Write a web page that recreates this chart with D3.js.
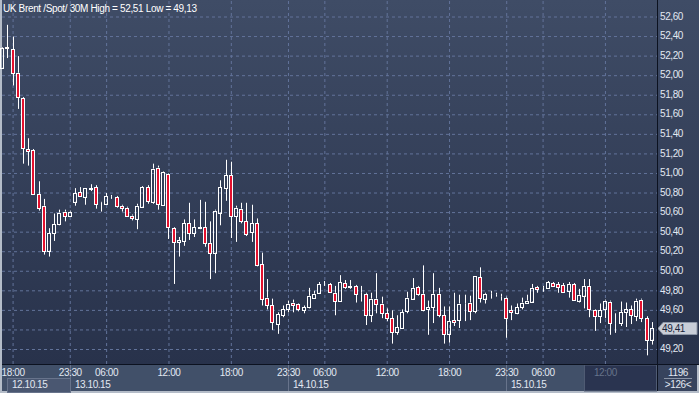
<!DOCTYPE html>
<html>
<head>
<meta charset="utf-8">
<script src="https://cdn.jsdelivr.net/npm/d3@7"></script>
<style>
body { margin: 0; background: #b9c0ca; }
text { font-family: "Liberation Sans", Arial, sans-serif; }
</style>
</head>
<body>
<div id="chart"></div>
<script>
// UK Brent /Spot/ 30 minute candles, 12.10.15 17:00 .. 15.10.15 16:30 (126 bars)
var opens = [52.07, 52.27, 52.26, 52.02, 51.76, 51.24, 51.23, 50.78, 50.66, 50.20,
             50.38, 50.47, 50.60, 50.55, 50.70, 50.80, 50.75, 50.83, 50.85, 50.69,
             50.68, 50.75, 50.75, 50.66, 50.64, 50.56, 50.52, 50.65, 50.85, 50.70,
             51.05, 50.67, 50.98, 50.43, 50.29, 50.30, 50.48, 50.38, 50.44, 50.44,
             50.28, 50.18, 50.59, 50.84, 50.97, 50.55, 50.63, 50.50, 50.39, 50.48,
             50.06, 49.72, 49.64, 49.45, 49.54, 49.60, 49.67, 49.65, 49.59, 49.62,
             49.72, 49.77, 49.86, 49.86, 49.77, 49.69, 49.87, 49.83, 49.84, 49.77,
             49.76, 49.54, 49.71, 49.66, 49.56, 49.51, 49.37, 49.41, 49.58, 49.71,
             49.83, 49.76, 49.60, 49.62, 49.76, 49.54, 49.35, 49.49, 49.49, 49.66,
             49.67, 49.58, 49.93, 49.71, 49.76, 49.75, 49.73, 49.72, 49.59, 49.56,
             49.62, 49.67, 49.68, 49.83, 49.82, 49.82, 49.87, 49.86, 49.85, 49.79,
             49.86, 49.69, 49.74, 49.84, 49.59, 49.53, 49.60, 49.68, 49.46, 49.46,
             49.57, 49.60, 49.53, 49.70, 49.51, 49.29];
var highs = [52.28, 52.51, 52.39, 52.19, 51.77, 51.35, 51.24, 50.91, 50.73, 50.43,
             50.58, 50.62, 50.62, 50.61, 50.84, 50.85, 50.84, 50.88, 50.87, 50.70,
             50.79, 50.77, 50.76, 50.67, 50.65, 50.57, 50.68, 50.86, 50.87, 51.09,
             51.07, 51.01, 50.99, 50.44, 50.34, 50.52, 50.69, 50.52, 50.72, 50.70,
             50.50, 50.62, 50.92, 51.13, 51.11, 50.66, 50.69, 50.69, 50.67, 50.53,
             50.18, 49.91, 49.71, 49.57, 49.64, 49.69, 49.70, 49.66, 49.64, 49.82,
             49.79, 49.88, 49.89, 49.87, 49.84, 49.95, 49.90, 49.90, 49.85, 49.84,
             49.77, 49.77, 49.97, 49.73, 49.61, 49.59, 49.54, 49.60, 49.78, 49.92,
             49.84, 50.05, 49.69, 49.97, 49.82, 49.63, 49.63, 49.77, 49.75, 49.75,
             49.74, 49.94, 50.03, 49.77, 49.79, 49.77, 49.76, 49.73, 49.64, 49.66,
             49.72, 49.75, 49.86, 49.84, 49.84, 49.89, 49.88, 49.88, 49.87, 49.88,
             49.87, 49.81, 49.91, 49.91, 49.60, 49.66, 49.70, 49.69, 49.56, 49.68,
             49.67, 49.64, 49.71, 49.71, 49.53, 49.47];
var lows = [52.06, 52.17, 51.89, 51.65, 51.09, 51.07, 50.77, 50.61, 50.16, 50.14,
            50.30, 50.46, 50.50, 50.55, 50.66, 50.75, 50.67, 50.81, 50.63, 50.60,
            50.67, 50.73, 50.64, 50.60, 50.55, 50.51, 50.42, 50.64, 50.68, 50.68,
            50.62, 50.67, 50.32, 49.86, 50.14, 50.25, 50.31, 50.34, 50.42, 50.24,
            49.91, 49.97, 50.46, 50.71, 50.33, 50.29, 50.48, 50.35, 50.29, 50.04,
            49.64, 49.60, 49.39, 49.35, 49.52, 49.57, 49.57, 49.58, 49.56, 49.61,
            49.72, 49.76, 49.84, 49.78, 49.54, 49.69, 49.81, 49.81, 49.67, 49.68,
            49.44, 49.47, 49.56, 49.51, 49.48, 49.25, 49.34, 49.40, 49.56, 49.70,
            49.74, 49.58, 49.34, 49.46, 49.52, 49.25, 49.26, 49.43, 49.41, 49.48,
            49.49, 49.56, 49.67, 49.66, 49.71, 49.73, 49.69, 49.31, 49.49, 49.55,
            49.60, 49.67, 49.67, 49.77, 49.78, 49.82, 49.83, 49.77, 49.78, 49.72,
            49.69, 49.67, 49.61, 49.52, 49.38, 49.46, 49.51, 49.34, 49.36, 49.43,
            49.42, 49.45, 49.48, 49.47, 49.13, 49.24];
var closes = [52.27, 52.28, 52.02, 51.77, 51.25, 51.22, 50.78, 50.64, 50.20, 50.38,
              50.47, 50.59, 50.56, 50.60, 50.79, 50.76, 50.84, 50.84, 50.68, 50.69,
              50.76, 50.75, 50.66, 50.64, 50.56, 50.53, 50.66, 50.85, 50.71, 51.04,
              50.68, 51.00, 50.44, 50.29, 50.31, 50.48, 50.38, 50.44, 50.43, 50.28,
              50.18, 50.61, 50.85, 50.97, 50.56, 50.64, 50.50, 50.37, 50.48, 50.05,
              49.71, 49.64, 49.47, 49.55, 49.60, 49.66, 49.64, 49.60, 49.62, 49.74,
              49.76, 49.86, 49.86, 49.78, 49.69, 49.88, 49.83, 49.84, 49.76, 49.77,
              49.54, 49.71, 49.66, 49.56, 49.51, 49.37, 49.42, 49.57, 49.72, 49.82,
              49.76, 49.59, 49.62, 49.76, 49.54, 49.35, 49.48, 49.47, 49.66, 49.66,
              49.58, 49.94, 49.72, 49.76, 49.76, 49.75, 49.73, 49.51, 49.57, 49.62,
              49.67, 49.69, 49.82, 49.81, 49.82, 49.88, 49.84, 49.83, 49.78, 49.86,
              49.70, 49.75, 49.84, 49.60, 49.53, 49.59, 49.69, 49.46, 49.46, 49.57,
              49.60, 49.54, 49.69, 49.51, 49.29, 49.41];

// time labels on the bottom axis (bar index -> text)
var timeTickIndex = [2, 13, 20, 32, 44, 55, 62, 74, 86, 97, 104, 116];
var timeTickLabels = ["18:00", "23:30", "06:00", "12:00", "18:00", "23:30",
                      "06:00", "12:00", "18:00", "23:30", "06:00", "12:00"];
// date boxes under the times
var dateLabels = ["12.10.15", "13.10.15", "14.10.15", "15.10.15"];
var dateStartIndex = [1, 13, 55, 97];
var dimStartIndex = 112;

// price axis
var yTicks = [49.2, 49.4, 49.6, 49.8, 50.0, 50.2, 50.4, 50.6, 50.8,
              51.0, 51.2, 51.4, 51.6, 51.8, 52.0, 52.2, 52.4, 52.6];
var titleText = "UK Brent /Spot/ 30M High = 52,51 Low = 49,13";
var barCount = "1196", visibleCount = ">126<";

var WIDTH = 699, HEIGHT = 393;
var plotLeft = 2, plotRight = 657, plotTop = 0, plotBottom = 364;

var commaFmt = function (v) { return d3.format(".2f")(v).replace(".", ","); };

var svg = d3.select("#chart").append("svg")
    .attr("width", WIDTH)
    .attr("height", HEIGHT);

// background gradient used for plot and price axis
var grad = svg.append("defs").append("linearGradient")
    .attr("id", "bg").attr("x1", 0).attr("y1", 0).attr("x2", 0).attr("y2", 1);
grad.append("stop").attr("offset", "0%").attr("stop-color", "#3f4c66");
grad.append("stop").attr("offset", "100%").attr("stop-color", "#28324b");

svg.append("rect").attr("width", WIDTH).attr("height", HEIGHT).attr("fill", "#b4bcc8");
svg.append("rect")
    .attr("x", plotLeft).attr("y", 0)
    .attr("width", WIDTH - plotLeft).attr("height", plotBottom)
    .attr("fill", "url(#bg)");

var x = d3.scalePoint()
    .domain(d3.range(opens.length))
    .range([2.2, 651.7]);
var y = d3.scaleLinear()
    .domain([49.2, 52.6])
    .range([348.5, 16]);

// horizontal grid
svg.append("g")
    .attr("transform", "translate(" + plotLeft + ",0)")
    .call(d3.axisRight(y).tickValues(yTicks).tickSize(plotRight - plotLeft).tickFormat(""))
    .call(function (g) {
        g.select(".domain").remove();
        g.selectAll("line")
            .attr("stroke", "#62739a")
            .attr("stroke-dasharray", "3,3")
            .attr("transform", "translate(0,0.5)");
    });

// vertical grid
svg.append("g")
    .attr("transform", "translate(0," + plotBottom + ")")
    .call(d3.axisBottom(x).tickValues(timeTickIndex).tickSize(-(plotBottom - plotTop)).tickFormat(""))
    .call(function (g) {
        g.select(".domain").remove();
        g.selectAll("line")
            .attr("stroke", "#62739a")
            .attr("stroke-dasharray", "3,3");
    });

// candles
var candles = svg.append("g").selectAll("g")
    .data(d3.range(opens.length))
    .enter().append("g");

candles.each(function (i) {
    var g = d3.select(this);
    var cx = Math.round(x(i));
    var top = y(Math.max(opens[i], closes[i]));
    var bot = y(Math.min(opens[i], closes[i]));
    var down = closes[i] < opens[i];
    g.append("line")
        .attr("x1", cx + 0.5).attr("x2", cx + 0.5)
        .attr("y1", y(highs[i])).attr("y2", top)
        .attr("stroke", "#ffffff");
    g.append("line")
        .attr("x1", cx + 0.5).attr("x2", cx + 0.5)
        .attr("y1", bot).attr("y2", y(lows[i]))
        .attr("stroke", "#ffffff");
    g.append("rect")
        .attr("x", cx - 1.5).attr("width", 3)
        .attr("y", Math.round(top) + 0.5)
        .attr("height", Math.max(Math.round(bot) - Math.round(top), 0))
        .attr("fill", down ? "#e3112e" : "none")
        .attr("stroke", "#ffffff");
});

// title
svg.append("text")
    .attr("x", 3).attr("y", 11.5)
    .attr("font-size", "10px")
    .attr("letter-spacing", "-0.35px")
    .attr("fill", "#ffffff")
    .text(titleText);

// price axis labels (the one under the last price tag is hidden, like the original)
var last = closes[closes.length - 1];
var ly = Math.round(y(last)) + 0.5;
var labelTicks = yTicks.filter(function (v) { return Math.abs(y(v) - ly) > 9; });
svg.append("g")
    .attr("transform", "translate(" + plotRight + ",0)")
    .call(d3.axisRight(y).tickValues(labelTicks).tickSize(0).tickPadding(3).tickFormat(commaFmt))
    .call(function (g) {
        g.select(".domain").remove();
        g.selectAll("text")
            .attr("font-size", "10px")
            .attr("letter-spacing", "-0.4px")
            .attr("fill", "#e2e8f2")
            .attr("font-family", "Liberation Sans, Arial, sans-serif");
    });

// last price tag
svg.append("path")
    .attr("d", "M" + (plotRight + 1) + "," + ly + "L" + (plotRight + 6) + "," + (ly - 6) +
               "H697V" + (ly + 6) + "H" + (plotRight + 6) + "Z")
    .attr("fill", "#c9ced8")
    .attr("stroke", "#8d97a8");
svg.append("text")
    .attr("x", plotRight + 5).attr("y", ly).attr("dy", "0.35em")
    .attr("font-size", "10px").attr("letter-spacing", "-0.4px")
    .attr("fill", "#18233a")
    .text(commaFmt(last));

// bottom axis band
svg.append("rect")
    .attr("x", plotLeft).attr("y", plotBottom)
    .attr("width", plotRight - plotLeft).attr("height", 27)
    .attr("fill", "#415069");
svg.append("rect")
    .attr("x", plotRight).attr("y", plotBottom)
    .attr("width", WIDTH - plotRight - 2).attr("height", 27)
    .attr("fill", "#37435d");
var dimX = Math.round(x(dimStartIndex));
svg.append("rect")
    .attr("x", dimX + 0.5).attr("y", plotBottom + 1)
    .attr("width", plotRight - dimX - 1).attr("height", 26)
    .attr("fill", "#2a3450")
    .attr("stroke", "#4f5b73");

// date boxes
dateLabels.forEach(function (d, k) {
    var x0 = Math.round(x(dateStartIndex[k]));
    var x1 = k < dateLabels.length - 1 ? Math.round(x(dateStartIndex[k + 1])) : dimX;
    if (k === 0) {
        svg.append("rect")
            .attr("x", x0 + 0.5).attr("y", 378.5)
            .attr("width", x1 - x0).attr("height", 14)
            .attr("fill", "#4a5771").attr("stroke", "#67738b");
    } else {
        svg.append("line")
            .attr("x1", x0 + 0.5).attr("x2", x0 + 0.5)
            .attr("y1", plotBottom).attr("y2", 391)
            .attr("stroke", "#67738b");
    }
    svg.append("text")
        .attr("x", x0 + 5).attr("y", 387.5)
        .attr("font-size", "10px").attr("letter-spacing", "-0.45px")
        .attr("fill", "#e2e8f2")
        .text(d);
});

// time labels
svg.append("g")
    .attr("transform", "translate(0," + plotBottom + ")")
    .call(d3.axisBottom(x).tickValues(timeTickIndex).tickSize(0).tickPadding(5)
        .tickFormat(function (d) { return timeTickLabels[timeTickIndex.indexOf(d)]; }))
    .call(function (g) {
        g.select(".domain").remove();
        g.selectAll("text")
            .attr("font-size", "10px")
            .attr("letter-spacing", "-0.4px")
            .attr("font-family", "Liberation Sans, Arial, sans-serif")
            .attr("fill", function (d) { return d >= dimStartIndex ? "#66738a" : "#e2e8f2"; });
    });

// separators
svg.append("line")
    .attr("x1", plotLeft).attr("x2", WIDTH)
    .attr("y1", plotBottom + 0.5).attr("y2", plotBottom + 0.5)
    .attr("stroke", "#0c1220");
svg.append("line")
    .attr("x1", plotRight + 0.5).attr("x2", plotRight + 0.5)
    .attr("y1", 0).attr("y2", 391)
    .attr("stroke", "#0c1220");

// bar counter in the corner
svg.append("text")
    .attr("x", 678).attr("y", 375.5).attr("text-anchor", "middle")
    .attr("font-size", "10px").attr("letter-spacing", "-0.4px").attr("fill", "#e2e8f2")
    .text(barCount);
svg.append("line")
    .attr("x1", 664).attr("x2", 692).attr("y1", 378.5).attr("y2", 378.5)
    .attr("stroke", "#8a94a6");
svg.append("text")
    .attr("x", 678).attr("y", 388).attr("text-anchor", "middle")
    .attr("font-size", "10px").attr("letter-spacing", "-0.4px").attr("fill", "#e2e8f2")
    .text(visibleCount);
</script>
</body>
</html>
